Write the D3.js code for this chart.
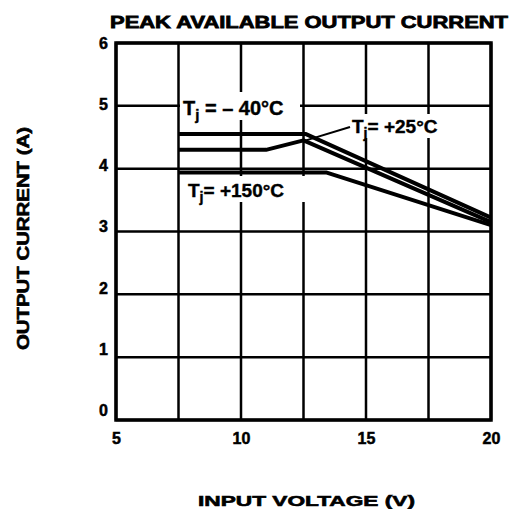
<!DOCTYPE html>
<html><head><meta charset="utf-8">
<script src="https://cdn.jsdelivr.net/npm/d3@7"></script>
<style>body{margin:0;background:#fff}</style>
</head><body>
<script>
const xTicks = [5, 10, 15, 20];
const xGrid = [5, 7.5, 10, 12.5, 15, 17.5, 20];
const yTicks = [0, 1, 2, 3, 4, 5, 6];
const seriesNames = ["Tj = -40°C", "Tj = +25°C", "Tj = +150°C"];
const minus40 = [[7.5, 4.55], [12.6, 4.55], [20, 3.22]];
const plus25 = [[7.5, 4.3], [11.0, 4.3], [12.5, 4.45], [20, 3.15]];
const plus150 = [[7.5, 3.94], [13.4, 3.94], [20, 3.1]];
const title = "PEAK AVAILABLE OUTPUT CURRENT";
const xTitle = "INPUT VOLTAGE (V)";
const yTitle = "OUTPUT CURRENT (A)";

const W = 510, H = 509;
const svg = d3.select("body").append("svg").attr("width", W).attr("height", H);
const x = d3.scaleLinear().domain([5, 20]).range([116, 491]);
const y = d3.scaleLinear().domain([0, 6]).range([420, 43]);
const font = "'Liberation Sans', Arial, sans-serif";

// grid
const g = svg.append("g");
g.selectAll(".vg").data(xGrid).join("line")
  .attr("x1", d => x(d)).attr("x2", d => x(d)).attr("y1", y(6)).attr("y2", y(0))
  .attr("stroke", "#000").attr("stroke-width", 2.5);
g.selectAll(".hg").data(yTicks).join("line")
  .attr("x1", x(5)).attr("x2", x(20)).attr("y1", d => y(d)).attr("y2", d => y(d))
  .attr("stroke", "#000").attr("stroke-width", 2.5);
g.append("rect").attr("x", x(5)).attr("y", y(6)).attr("width", x(20) - x(5)).attr("height", y(0) - y(6))
  .attr("fill", "none").attr("stroke", "#000").attr("stroke-width", 3.5);

// axis labels via d3 axes (no domain/ticks)
const xAxis = svg.append("g").attr("transform", `translate(0,${y(0)})`)
  .call(d3.axisBottom(x).tickValues(xTicks).tickSize(0).tickPadding(13).tickFormat(d3.format("d")));
xAxis.select(".domain").remove();
xAxis.selectAll("text").attr("font-family", font).attr("font-weight", "bold").attr("font-size", 16).attr("fill", "#000")
  .attr("stroke", "#000").attr("stroke-width", 0.5);
const yAxis = svg.append("g").attr("transform", `translate(${x(5)},0)`)
  .call(d3.axisLeft(y).tickValues(yTicks).tickSize(0).tickPadding(8).tickFormat(d3.format("d")));
yAxis.select(".domain").remove();
yAxis.selectAll("text").attr("font-family", font).attr("font-weight", "bold").attr("font-size", 16).attr("fill", "#000")
  .attr("stroke", "#000").attr("stroke-width", 0.5)
  .attr("dy", d => (0.32 - 0.15 * (6 - d) / 6 * 4) + "em");

function label(px, py, rest, sz, len) {
  const t = svg.append("text").attr("x", px).attr("y", py).attr("font-family", font)
    .attr("font-size", sz).attr("font-weight", "bold").attr("fill", "#000")
    .attr("stroke", "#000").attr("stroke-width", 0.4);
  t.append("tspan").text("T");
  t.append("tspan").text("j").attr("font-size", sz * 0.75).attr("dy", 5);
  t.append("tspan").text(rest).attr("dy", -5);
  return t;
}
// label backgrounds
svg.append("rect").attr("x", 180).attr("y", 92).attr("width", 120).attr("height", 28).attr("fill", "#fff");
svg.append("rect").attr("x", 184).attr("y", 176).attr("width", 122).attr("height", 26).attr("fill", "#fff");
svg.append("rect").attr("x", 350).attr("y", 114).attr("width", 112).attr("height", 24).attr("fill", "#fff");

// curves
const line = d3.line().x(d => x(d[0])).y(d => y(d[1]));
svg.selectAll(".curve").data([minus40, plus25, plus150]).join("path")
  .attr("d", line).attr("fill", "none").attr("stroke", "#000").attr("stroke-width", 4).attr("stroke-linejoin", "round");

// leader for +25
svg.append("line").attr("x1", x(12.6)).attr("y1", y(4.45)).attr("x2", 350).attr("y2", 127)
  .attr("stroke", "#000").attr("stroke-width", 2);

label(183, 115, " = – 40°C", 20);
label(352, 133, "= +25°C", 19);
label(188, 197, "= +150°C", 19);

// titles
svg.append("text").attr("x", 110).attr("y", 28).text(title).attr("font-family", font).attr("font-weight", "900")
  .attr("font-size", 17).attr("textLength", 398).attr("lengthAdjust", "spacingAndGlyphs").attr("fill", "#000")
  .attr("stroke", "#000").attr("stroke-width", 0.8);
svg.append("text").attr("x", 198).attr("y", 506).text(xTitle).attr("font-family", font).attr("font-weight", "bold")
  .attr("font-size", 15).attr("textLength", 217).attr("lengthAdjust", "spacingAndGlyphs").attr("fill", "#000")
  .attr("stroke", "#000").attr("stroke-width", 0.6);
svg.append("text").attr("transform", "translate(29,350) rotate(-90)").text(yTitle).attr("font-family", font)
  .attr("font-weight", "bold").attr("font-size", 16).attr("textLength", 223).attr("lengthAdjust", "spacingAndGlyphs")
  .attr("fill", "#000").attr("stroke", "#000").attr("stroke-width", 0.6);
</script>
</body></html>
